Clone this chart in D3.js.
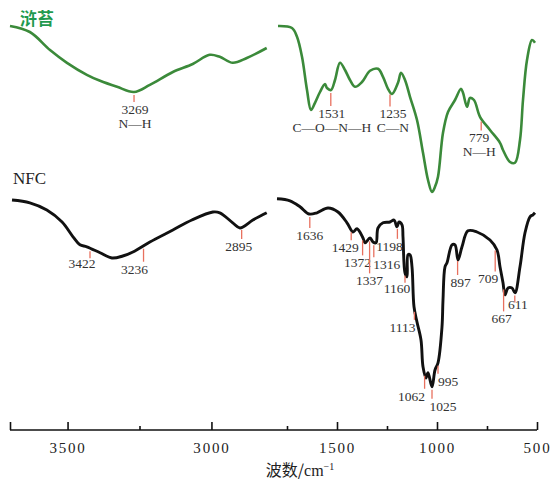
<!DOCTYPE html>
<html>
<head>
<meta charset="utf-8">
<script src="https://cdn.jsdelivr.net/npm/d3@7"></script>
<style>
    body { margin: 0; background: #fff; }
</style>
</head>
<body>
<div id="chart-area"></div>
<script>

// DATA
// =====

// 浒苔 (green), high wavenumber part
var hutaiHighWn = [3700, 3631, 3561, 3502, 3433, 3387, 3328, 3269, 3214, 3134, 3065, 3006, 2971, 2926, 2877, 2808];
var hutaiHighT  = [101, 99.5, 95, 91.8, 88.8, 87.3, 85.8, 84.5, 86.3, 89.5, 91.5, 93.8, 93.3, 91.8, 93, 95.5];

// 浒苔, fingerprint part
var hutaiLowWn = [1795, 1725, 1700, 1675, 1650, 1630, 1610, 1585, 1560, 1550, 1530, 1510, 1485, 1460, 1435, 1410,
    1375, 1335, 1295, 1270, 1245, 1225, 1195, 1180, 1160, 1135, 1100, 1070, 1045, 1025, 1010, 995, 970, 945,
    910, 880, 870, 850, 835, 815, 785, 735, 685, 670, 635, 610, 585, 570, 550, 525, 510];
var hutaiLowT  = [101, 100.5, 98.3, 93.3, 85, 80, 81.8, 84.5, 86.5, 85.5, 85, 87.5, 91.8, 90, 87.5, 85.8,
    87, 89.8, 90.3, 88.3, 85.3, 84, 86.8, 89.3, 87.5, 83.3, 77.5, 69.3, 62.5, 59.5, 60.8, 63.3, 74.3, 79.5,
    82.5, 85.3, 84.3, 80.8, 83, 82.5, 78.3, 75, 71.8, 70, 67, 66.8, 72.5, 82.5, 92.5, 97.5, 96.8];

// NFC (black), high wavenumber part
var nfcHighWn = [3693, 3631, 3572, 3519, 3481, 3457, 3433, 3387, 3346, 3308, 3273, 3214, 3134, 3068, 2995, 2971, 2926, 2901, 2856, 2808];
var nfcHighT  = [57.5, 56.8, 55, 52, 48.3, 46.3, 45.8, 44.3, 43, 43.5, 44.5, 47, 50, 52.5, 54.5, 54.3, 51.8, 50.5, 52.5, 54.3];

// NFC, fingerprint part
var nfcLowWn = [1800, 1735, 1685, 1640, 1600, 1545, 1495, 1450, 1420, 1400, 1370, 1360, 1335, 1320, 1305, 1295,
    1270, 1235, 1215, 1200, 1190, 1175, 1170, 1160, 1150, 1145, 1135, 1125, 1115, 1100, 1080, 1070, 1055, 1045,
    1025, 1010, 995, 975, 970, 960, 950, 925, 910, 895, 875, 845, 800, 735, 700, 685, 670, 660, 645, 625, 610,
    585, 560, 535, 520, 510];
var nfcLowT  = [57.8, 57.3, 55.8, 54, 54.3, 55.5, 54.5, 51.8, 49.5, 50.3, 48, 46.8, 48, 47, 46.8, 50.5,
    51.8, 52, 52.5, 50.8, 52, 51.3, 48.3, 39.3, 38.3, 43.8, 43.8, 40.8, 30.8, 27, 22.5, 15.8, 13, 14.3,
    10.8, 15, 16.8, 25.8, 32.5, 40.8, 41.8, 46.3, 46.3, 42.5, 45.8, 49.8, 49.5, 47.5, 45, 40.8, 36.8, 33.8, 35.5, 35.5, 34.3,
    40.8, 49.3, 53.3, 53.8, 54.3];

// marked peaks
var hutaiPeaks = [3269, 1531, 1235, 779];
var hutaiBonds = ['N\u2014H', 'C\u2014O\u2014N\u2014H', 'C\u2014N', 'N\u2014H'];
var nfcPeaks = [3422, 3236, 2895, 1636, 1429, 1372, 1337, 1316, 1198, 1160, 1113, 1062, 1025, 995, 897, 709, 667, 611];

// axis ticks
var majorHigh = [3700, 3500, 3000];
var minorHigh = [3250];
var majorLow = [1500, 1000, 500];
var minorLow = [1750, 1250, 750];


// LABEL NUDGES (dx, dy from curve, px)
// =====================================
var hutaiNudge = {3269: [1, 22], 1531: [1, 28], 1235: [3, 27], 779: [-2, 24]};
var nfcNudge = {
    3422: [-8, 20], 3236: [-9, 28], 2895: [-3, 24], 1636: [0, 26], 1429: [-6, 23], 1372: [-5, 30],
    1337: [0, 47], 1316: [13, 27], 1198: [-8, 25], 1160: [-8, 20], 1113: [-12, 23], 1062: [-13, 28],
    1025: [11, 24], 995: [10, 23], 897: [3, 29], 709: [-7, 36], 667: [-2, 37], 611: [3, 17]
};


// CANVAS
// =======

var width = 551, height = 491;

var svg = d3.select('#chart-area')
    .append('svg')
        .attr('width', width)
        .attr('height', height);

var xHigh = d3.scaleLinear().domain([3700, 2800]).range([10, 269]);
var xLow = d3.scaleLinear().domain([1800, 500]).range([277, 537]);
var y = d3.scaleLinear().domain([0, 100]).range([430, 30]);

function xFor(wn) {
    return wn > 2000 ? xHigh(wn) : xLow(wn);
}

function curveAt(wn, wns, ts) {
    for (var i = 0; i < wns.length - 1; i++) {
        if (wns[i] >= wn && wns[i + 1] <= wn) {
            var f = (wns[i] - wn) / (wns[i] - wns[i + 1]);
            return ts[i] + f * (ts[i + 1] - ts[i]);
        }
    }
    return ts[ts.length - 1];
}


// AXIS
// =====

var axisY = 430;
var numFont = '"Liberation Serif", "Times New Roman", serif';

svg.append('line')
    .attr('x1', xHigh(3700))
    .attr('x2', xLow(500))
    .attr('y1', axisY)
    .attr('y2', axisY)
    .attr('stroke', '#111')
    .attr('stroke-width', 1.6);

function drawAxis(scale, major, minor) {
    var gMaj = svg.append('g')
        .attr('transform', 'translate(0,' + axisY + ')')
        .attr('font-family', numFont)
        .call(d3.axisBottom(scale)
            .tickValues(major)
            .tickSizeInner(-8)
            .tickSizeOuter(0)
            .tickPadding(12)
            .tickFormat(d => d === 3700 ? '' : d));
    gMaj.attr('font-family', numFont);
    gMaj.select('.domain').remove();
    gMaj.selectAll('line').attr('stroke', '#111').attr('stroke-width', 1.6);
    gMaj.selectAll('text')
        .style('font-family', numFont)
        .attr('font-size', '15px')
        .attr('letter-spacing', '1.8px')
        .attr('fill', '#222');

    var gMin = svg.append('g')
        .attr('transform', 'translate(0,' + axisY + ')')
        .call(d3.axisBottom(scale)
            .tickValues(minor)
            .tickSizeInner(-4)
            .tickSizeOuter(0)
            .tickFormat(''));
    gMin.select('.domain').remove();
    gMin.selectAll('line').attr('stroke', '#111').attr('stroke-width', 1.6);
}

drawAxis(xHigh, majorHigh, minorHigh);
drawAxis(xLow, majorLow, minorLow);

var title = svg.append('text')
    .attr('x', 300)
    .attr('y', 476)
    .attr('text-anchor', 'middle')
    .attr('font-family', '"Noto Sans CJK SC", "Liberation Serif", serif')
    .attr('font-size', '16px')
    .attr('fill', '#222');
title.append('tspan').text('波数/');
title.append('tspan')
    .attr('font-family', numFont)
    .text('cm');
title.append('tspan')
    .attr('font-family', numFont)
    .attr('font-size', '10px')
    .attr('dy', -6)
    .text('\u22121');


// CURVES
// =======

var line = d3.line()
    .curve(d3.curveCatmullRom.alpha(0.5));

function drawCurve(wns, ts, scale, color, w) {
    var pts = wns.map((d, i) => [scale(d), y(ts[i])]);
    svg.append('path')
        .attr('d', line(pts))
        .attr('fill', 'none')
        .attr('stroke', color)
        .attr('stroke-width', w)
        .attr('stroke-linejoin', 'round');
}

var green = '#3b8a3a';
var black = '#111';

drawCurve(hutaiHighWn, hutaiHighT, xHigh, green, 2.6);
drawCurve(hutaiLowWn, hutaiLowT, xLow, green, 2.6);
drawCurve(nfcHighWn, nfcHighT, xHigh, black, 2.9);
drawCurve(nfcLowWn, nfcLowT, xLow, black, 2.9);


// PEAK MARKS
// ===========

function markPeaks(peaks, nudge, hiWn, hiT, loWn, loT, bonds) {
    peaks.forEach((p, i) => {
        var t = p > 2000 ? curveAt(p, hiWn, hiT) : curveAt(p, loWn, loT);
        var cy = y(t);
        var px = xFor(p);
        var base = cy + nudge[p][1];
        var top = cy + 3;
        var bottom = Math.max(base - 12, top + 7);

        svg.append('line')
            .attr('x1', px).attr('x2', px)
            .attr('y1', top).attr('y2', bottom)
            .attr('stroke', '#e8705e')
            .attr('stroke-width', 1.3);

        svg.append('text')
            .attr('x', px + nudge[p][0])
            .attr('y', base)
            .attr('text-anchor', 'middle')
            .attr('font-family', numFont)
            .attr('font-size', '13.5px')
            .attr('fill', '#333')
            .text(p);

        if (bonds) {
            svg.append('text')
                .attr('x', px + nudge[p][0])
                .attr('y', base + 14)
                .attr('text-anchor', 'middle')
                .attr('font-family', numFont)
                .attr('font-size', '13.5px')
                .attr('fill', '#333')
                .text(bonds[i]);
        }
    });
}

markPeaks(hutaiPeaks, hutaiNudge, hutaiHighWn, hutaiHighT, hutaiLowWn, hutaiLowT, hutaiBonds);
markPeaks(nfcPeaks, nfcNudge, nfcHighWn, nfcHighT, nfcLowWn, nfcLowT, null);


// SERIES LABELS
// ==============

svg.append('text')
    .attr('x', 20)
    .attr('y', 25)
    .attr('font-family', '"Noto Sans CJK SC", sans-serif')
    .attr('font-weight', 'bold')
    .attr('font-size', '17px')
    .attr('fill', '#1f9a4e')
    .text('浒苔');

svg.append('text')
    .attr('x', 13)
    .attr('y', 184)
    .attr('font-family', numFont)
    .attr('font-size', '17px')
    .attr('fill', '#222')
    .text('NFC');

</script>
</body>
</html>
